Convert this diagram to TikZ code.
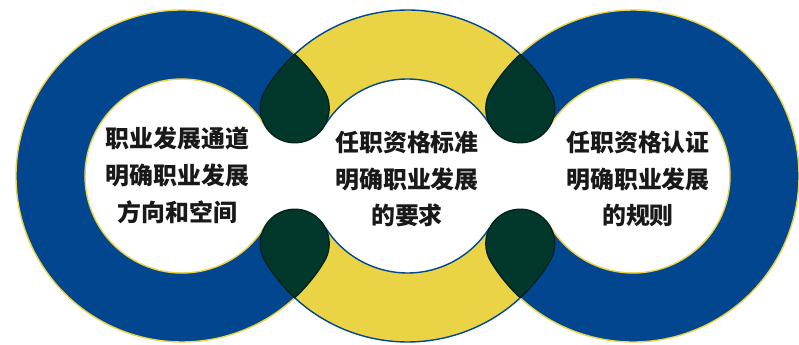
\documentclass[tikz,border=0pt]{standalone}
\usepackage{fontspec}
\newfontfamily\cjk{Noto Sans CJK SC}
\usetikzlibrary{calc}
\definecolor{ringblue}{RGB}{2,70,143}
\definecolor{ringyellow}{RGB}{234,212,70}
\definecolor{dropgreen}{RGB}{2,56,43}

\begin{document}
\begin{tikzpicture}[x=0.02cm, y=0.02cm,
    bluering/.style={fill=ringblue, draw=ringyellow, line width=0.8pt},
    yellowring/.style={fill=ringyellow, draw=ringblue, line width=0.8pt},
    dropshape/.style={fill=dropgreen, draw=dropgreen!60!black, line width=0.7pt},
    ringtext/.style={font=\cjk\bfseries\fontsize{13.6}{21}\selectfont, text=black!90, align=center}]
    \useasboundingbox[fill=white] (0,0) rectangle (799,345);
    \coordinate (L) at (182,169);
    \coordinate (C) at (407.5,169);
    \coordinate (R) at (633,169);

    % Rings
    \path[bluering] ($(L)+(32.5:166)$) arc[start angle=32.5, end angle=327.5, radius=166]
        -- ($(L)+(327.5:97)$) arc[start angle=327.5, end angle=32.5, radius=97] -- cycle;
    \path[yellowring] ($(C)+(32.5:166)$) arc[start angle=32.5, end angle=147.5, radius=166]
        -- ($(C)+(147.5:97)$) arc[start angle=147.5, end angle=32.5, radius=97] -- cycle;
    \path[yellowring] ($(C)+(212.5:166)$) arc[start angle=212.5, end angle=327.5, radius=166]
        -- ($(C)+(327.5:97)$) arc[start angle=327.5, end angle=212.5, radius=97] -- cycle;
    \path[bluering] ($(R)+(-147.5:166)$) arc[start angle=-147.5, end angle=147.5, radius=166]
        -- ($(R)+(147.5:97)$) arc[start angle=147.5, end angle=-147.5, radius=97] -- cycle;

    % Drops where the rings meet
    \foreach \mx in {294.75,520.25}
        \foreach \s in {1,-1}
            \path[dropshape, shift={(\mx,169)}, yscale=\s] (0,121.8)
                arc[start angle=47.21, end angle=30.97, radius=166]
                arc[start angle=30.97, end angle=-210.97, radius=34.5]
                arc[start angle=149.03, end angle=132.79, radius=166] -- cycle;

    % Texts
    \node[ringtext] (left-text) at (177.5,170) {职业发展通道\\明确职业发展\\方向和空间};
    \node[ringtext] (mid-text) at (407,166) {任职资格标准\\明确职业发展\\的要求};
    \node[ringtext] (right-text) at (638,166) {任职资格认证\\明确职业发展\\的规则};
\end{tikzpicture}
\end{document}
